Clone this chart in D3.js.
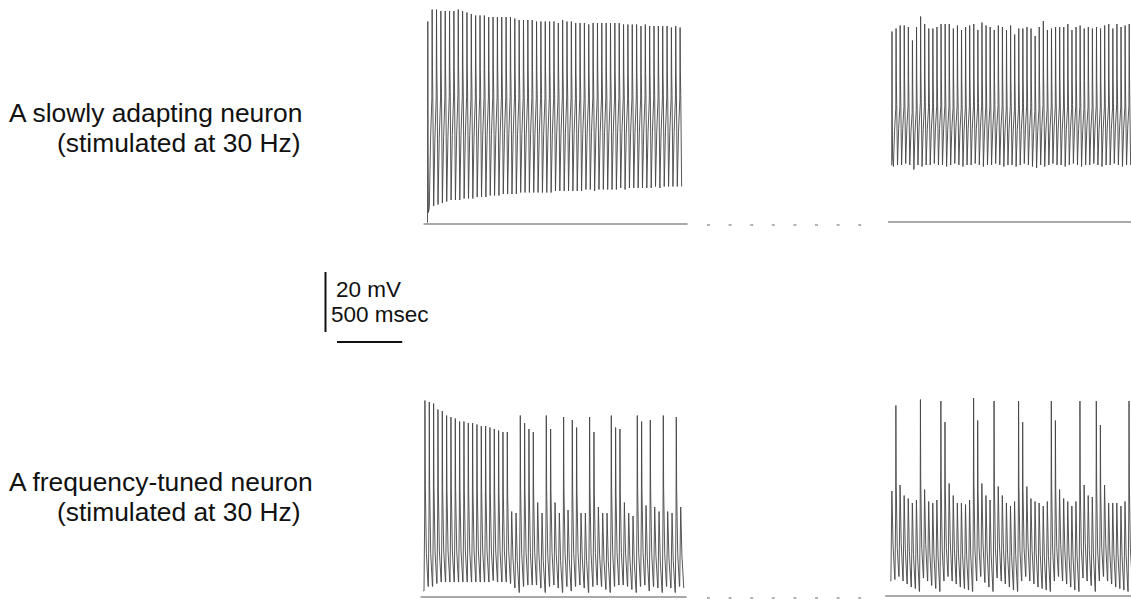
<!DOCTYPE html>
<html lang="en">
<head>
<meta charset="UTF-8">
<title>Slowly adapting vs frequency-tuned neuron</title>
<script src="https://d3js.org/d3.v7.min.js"></script>
<style>
  body { margin: 0; background: #fff; }
  .trace { fill: none; stroke: #444; stroke-width: 0.9px; stroke-linejoin: round; }
  .base { stroke: #555; stroke-width: 1px; }
  .gap { stroke: #666; stroke-width: 1px; stroke-dasharray: 3 18.6; }
  .label { font-family: "Liberation Sans", Arial, sans-serif; font-size: 26.4px; fill: #111; }
  .bar-text { font-family: "Liberation Sans", Arial, sans-serif; font-size: 22.5px; fill: #111; }
  .bar { stroke: #111; stroke-width: 2px; }
</style>
</head>
<body>
<div id="chart"></div>
<script>
// stimulation
const rateHz = 30;
const periodMs = 1000 / rateHz;

// membrane potential (mV above the reference line), one value per stimulus
// slowly adapting neuron, start of stimulation
const slowStartPeaks = [
  67.5, 71.5, 71.5, 71, 71, 71, 71, 71.5, 71, 70.5,
  70, 69.5, 69.5, 69.5, 69, 69, 69, 69, 69, 69,
  68.5, 68, 68, 68, 68, 67.5, 67.5, 67.5, 67.5, 67.5,
  67, 68, 67.5, 67.5, 67, 67, 67, 66.5, 67, 67,
  67, 67, 67, 67, 67, 66.5, 66.5, 66.5, 66.5, 66,
  66.5, 66, 66, 66, 66, 66, 65.5, 66, 65.5
];
const slowStartTroughs = [
  5.5, 6, 6.5, 7, 7.5, 8, 8, 8, 8.5, 8.5,
  8.5, 9, 9, 9, 9.5, 9.5, 9.5, 10, 10, 10,
  10, 10.5, 10.5, 10.5, 10.5, 10.5, 10.5, 10.5, 10.5, 11,
  11, 11, 11, 11, 11, 11, 11.5, 11.5, 11, 11.5,
  11.5, 11.5, 11.5, 11.5, 12, 11.5, 12, 12, 12, 12,
  12, 12, 12.5, 12, 12.5, 12.5, 12.5, 12.5, 12.5
];
// slowly adapting neuron, later in the stimulation
const slowLatePeaks = [
  63.5, 64.5, 65.5, 65.5, 65, 60.5, 65, 68.5, 66, 64.5,
  64.5, 65, 66, 66, 66, 64.5, 65.5, 64, 65, 65.5,
  66, 64, 66.5, 65.5, 65, 64, 65.5, 65, 64, 65.5,
  62.5, 64.5, 64.5, 65, 64.5, 62, 65, 67, 64, 64.5,
  65, 65, 65, 66, 64, 65, 65.5, 64.5, 65, 64.5,
  65, 64.5, 65.5, 66, 64.5, 66, 65, 65.5, 66
];
const slowLateTroughs = [
  18.5, 19, 19, 19.5, 19, 17.5, 19, 18.5, 19, 19,
  19.5, 19, 19, 18.5, 19, 19.5, 19, 18.5, 19, 19,
  19.5, 19, 18.5, 19, 19, 19.5, 19, 18.5, 19, 19,
  18.5, 19, 19.5, 19, 18.5, 18, 19, 18.5, 19, 19.5,
  19, 19, 18.5, 19, 19.5, 19, 18.5, 19, 19, 19.5,
  19, 18.5, 19, 19, 19.5, 19, 18.5, 19, 19
];
// frequency-tuned neuron, start of stimulation
const tunedStartPeaks = [
  65.5, 65, 64.5, 62.5, 62, 60.5, 60, 59.5, 58.5, 58.5,
  58, 58, 57.5, 57, 57, 56.5, 56, 55.5, 55, 55,
  28.5, 28, 60.5, 58, 56, 55, 31.5, 28, 60.5, 56,
  31.5, 28, 60, 29, 59, 56.5, 28, 28, 60, 55,
  30, 28, 28, 60.5, 56.5, 56, 31.5, 28, 27, 60.5,
  58.5, 30.5, 59, 30, 28.5, 60.5, 28.5, 28, 60, 30
];
const tunedStartTroughs = [
  3.5, 3.5, 4.5, 5, 5, 5, 5, 5, 5, 5,
  5, 5, 5, 5, 5, 5.5, 5, 5, 5, 4.5,
  3, 1.5, 3.5, 4, 4, 4, 3, 1.5, 3.5, 4,
  3, 1.5, 3.5, 2, 3.5, 4, 3, 1.5, 3.5, 4,
  3.5, 2.5, 1.5, 3.5, 4, 4, 3.5, 2.5, 1.5, 3.5,
  4, 2, 3.5, 3, 1.5, 3.5, 3, 1.5, 3.5, 3
];
// frequency-tuned neuron, later in the stimulation
const tunedLatePeaks = [
  35, 63.5, 37, 33.5, 32.5, 31, 32, 65.5, 35.5, 31.5,
  31, 32, 65, 58, 37.5, 33.5, 31, 31, 30.5, 32,
  66, 58.5, 37.5, 33.5, 32, 65, 36.5, 33.5, 31, 30,
  31.5, 65, 58, 36.5, 32.5, 31.5, 31, 30, 31.5, 65,
  58.5, 35.5, 32.5, 31.5, 30, 31.5, 65, 37, 33.5, 33,
  65, 57, 37, 31, 31, 31, 30, 31.5, 65
];
const tunedLateTroughs = [
  5.5, 6.5, 5, 4, 3, 2.5, 1.5, 6, 5, 3.5,
  2.5, 1.5, 5, 6.5, 5, 4, 3, 2.5, 2, 1.5,
  5, 6.5, 4.5, 3, 1.5, 6, 5, 4, 3, 2,
  1.5, 5, 6.5, 5, 4, 3, 2.5, 2, 1.5, 5,
  6.5, 5, 4, 3, 2, 1.5, 6, 5, 3.5, 1.5,
  5, 6.5, 5, 4, 3, 2.5, 2, 1.5, 6
];

const rowLabels = [
  ["A slowly adapting neuron", "(stimulated at 30 Hz)"],
  ["A frequency-tuned neuron", "(stimulated at 30 Hz)"]
];
const scaleMv = 20, scaleMs = 500;

const W = 1131, H = 600;
const pxPerMv = 3;

const svg = d3.select("#chart").append("svg")
  .attr("width", W).attr("height", H)
  .style("display", "block");
svg.append("rect").attr("width", W).attr("height", H).attr("fill", "#fff");

// panel layout: where stimulus 0 sits, pixels per ms, y of the 0 mV line
const panels = [
  {peaks: slowStartPeaks, troughs: slowStartTroughs, kind: "spike", start: 0.5, thFrac: 0.55,
   x0: 427.5, pxMs: 0.1305, y0: 224, base: [-0.9, 1.8]},
  {peaks: slowLatePeaks, troughs: slowLateTroughs, kind: "spike", start: 19, thFrac: 0.42,
   x0: 891.7, pxMs: 0.1227, y0: 222, base: [-0.9, 3]},
  {peaks: tunedStartPeaks, troughs: tunedStartTroughs, kind: "tuned", start: 2, thFrac: 0,
   x0: 424, pxMs: 0.13, y0: 597, base: [-0.8, 1.6]},
  {peaks: tunedLatePeaks, troughs: tunedLateTroughs, kind: "tuned", start: 5, thFrac: 0,
   x0: 890.9, pxMs: 0.1227, y0: 596, base: [-1.4, 3]}
];

const P = periodMs;

// action potential: fast upstroke, shoulder on the repolarisation, AHP, ramp to next threshold
function spikePoints(peaks, troughs, start, thFrac) {
  const pts = [[-0.12 * P, start]];
  let prev = start;
  peaks.forEach((pk, i) => {
    const t0 = i * P, tr = troughs[i];
    const th = i === 0 ? start : prev + thFrac * (pk - prev);
    pts.push([t0, th], [t0 + 0.07 * P, pk], [t0 + 0.14 * P, th + 0.35 * (pk - th)],
             [t0 + 0.22 * P, th + 0.05 * (pk - th)], [t0 + 0.42 * P, tr]);
    if (i < peaks.length - 1) {
      const nth = tr + thFrac * (peaks[i + 1] - tr);
      pts.push([t0 + 0.7 * P, tr + 0.62 * (nth - tr)]);
    }
    prev = tr;
  });
  return pts;
}

// each stimulus gives an EPSP; the large ones carry a spike
function tunedPoints(peaks, troughs, start) {
  const th = 28;
  const pts = [[-0.1 * P, start]];
  let prev = start;
  peaks.forEach((pk, i) => {
    const t0 = i * P, tr = troughs[i];
    pts.push([t0, prev]);
    if (pk > 45) {
      pts.push([t0 + 0.16 * P, th], [t0 + 0.22 * P, pk], [t0 + 0.3 * P, th + 0.25 * (pk - th)],
               [t0 + 0.55 * P, tr + 0.45 * (th - tr)]);
    } else {
      pts.push([t0 + 0.24 * P, pk], [t0 + 0.52 * P, tr + 0.4 * (pk - tr)]);
    }
    pts.push([t0 + 0.95 * P, tr]);
    prev = tr;
  });
  return pts;
}

panels.forEach(p => {
  const n = p.peaks.length;
  const x = d3.scaleLinear().domain([0, 1000]).range([p.x0, p.x0 + 1000 * p.pxMs]);
  const y = d3.scaleLinear().domain([0, 20]).range([p.y0, p.y0 - 20 * pxPerMv]);
  p.x = x; p.y = y;

  svg.append("line").attr("class", "base")
    .attr("x1", x(p.base[0] * P)).attr("x2", x((n - 1 + p.base[1]) * P))
    .attr("y1", y(0)).attr("y2", y(0));

  const pts = p.kind === "spike"
    ? spikePoints(p.peaks, p.troughs, p.start, p.thFrac)
    : tunedPoints(p.peaks, p.troughs, p.start);

  svg.append("path").attr("class", "trace")
    .attr("d", d3.line().x(d => x(d[0])).y(d => y(d[1]))(pts));
});

// time break between the two recordings of each row
[panels[0], panels[2]].forEach(p => {
  svg.append("line").attr("class", "gap")
    .attr("x1", 707).attr("x2", 862)
    .attr("y1", p.y(0) + 1).attr("y2", p.y(0) + 1);
});

// row labels
const labelY = [121.5, 491];
rowLabels.forEach((lines, r) => {
  svg.append("text").attr("class", "label").attr("x", 9).attr("y", labelY[r]).text(lines[0]);
  svg.append("text").attr("class", "label").attr("x", 57).attr("y", labelY[r] + 30).text(lines[1]);
});

// scale bars
const yb = panels[0].y, xb = panels[0].x;
const vx = 325.5, vTop = 272;
svg.append("line").attr("class", "bar")
  .attr("x1", vx).attr("x2", vx)
  .attr("y1", vTop).attr("y2", vTop + (yb(0) - yb(scaleMv)));
const hx = 337, hy = 342;
svg.append("line").attr("class", "bar")
  .attr("x1", hx).attr("x2", hx + (xb(scaleMs) - xb(0)))
  .attr("y1", hy).attr("y2", hy);
svg.append("text").attr("class", "bar-text").attr("x", 336).attr("y", 296.5).text(scaleMv + " mV");
svg.append("text").attr("class", "bar-text").attr("x", 331).attr("y", 321.5).text(scaleMs + " msec");
</script>
</body>
</html>
